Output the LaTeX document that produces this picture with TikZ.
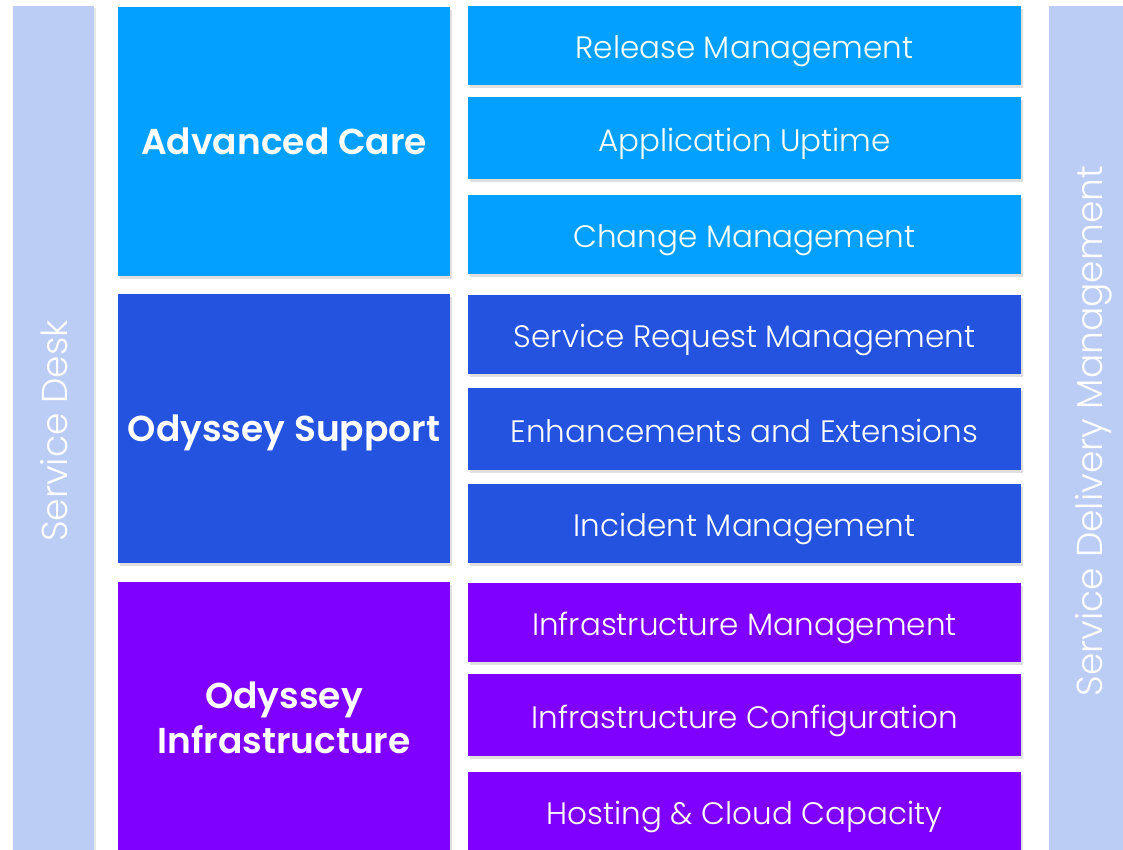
\documentclass[tikz,border=0pt]{standalone}
\usepackage{fontspec}
\setmainfont{Poppins}
\newfontfamily\lightfont{Poppins Light}
\newfontfamily\titlefont{Poppins SemiBold}
\usetikzlibrary{
	positioning,
	shadows
}
\definecolor{carecol}{HTML}{03A0FF}
\definecolor{supportcol}{HTML}{2453E0}
\definecolor{infracol}{HTML}{8000FF}
\definecolor{barcol}{HTML}{BBCCF5}

\begin{document}
\begin{tikzpicture}[
	x=1pt, y=-1pt,
	node distance =0mm,
	tier/.style = {
		rectangle,
		fill=#1,
		text=white,
		anchor=north west,
		outer sep=0pt,
		minimum width=332pt,
		minimum height=269pt,
		text depth=0pt,
		align=center,
		font=\titlefont\fontsize{36}{45}\selectfont,
		drop shadow={shadow xshift=2pt, shadow yshift=-3pt, opacity=0.25}
	},
	service/.style = {
		rectangle,
		fill=#1,
		text=white,
		outer sep=0pt,
		minimum width=553pt,
		minimum height=79pt,
		text height=26pt,
		text depth=0pt,
		font=\lightfont\fontsize{31}{34}\selectfont,
		drop shadow={shadow xshift=2pt, shadow yshift=-3pt, opacity=0.25}
	},
	sidebar/.style = {
		rectangle,
		fill=barcol,
		text=white,
		rotate=90,
		minimum width=850pt,
		minimum height=81pt,
		text depth=0pt,
		font=\lightfont\fontsize{36}{40}\selectfont,
		drop shadow={shadow xshift=2pt, shadow yshift=-2pt, opacity=0.2}
	},
]
	\useasboundingbox (0,0) rectangle (1123,849);
	\clip (0,0) rectangle (1123,849);

	% side bars
	\node (desk) [sidebar] at (53.5,431) {Service Desk};
	\node (delivery) [sidebar] at (1089,431) {Service Delivery Management};

	% tiers
	\node (care) [tier=carecol] at (118,7) {Advanced Care};
	\node (support) [tier=supportcol] at (118,294) {Odyssey Support};
	\node (infra) [tier=infracol, minimum height=272pt] at (118,582) {Odyssey\\Infrastructure};

	% services
	\node (release) [service=carecol, anchor=north west] at (468,6) {Release Management};
	\node (uptime) [service=carecol, minimum height=82pt, below=12pt of release] {Application Uptime};
	\node (change) [service=carecol, below=16pt of uptime] {Change Management};

	\node (request) [service=supportcol, below=21pt of change] {Service Request Management};
	\node (enhance) [service=supportcol, minimum height=82pt, below=14pt of request] {Enhancements and Extensions};
	\node (incident) [service=supportcol, below=14pt of enhance] {Incident Management};

	\node (inframgmt) [service=infracol, below=20pt of incident] {Infrastructure Management};
	\node (infraconf) [service=infracol, minimum height=82pt, below=12pt of inframgmt] {Infrastructure Configuration};
	\node (hosting) [service=infracol, below=16pt of infraconf] {Hosting \& Cloud Capacity};
\end{tikzpicture}
\end{document}
